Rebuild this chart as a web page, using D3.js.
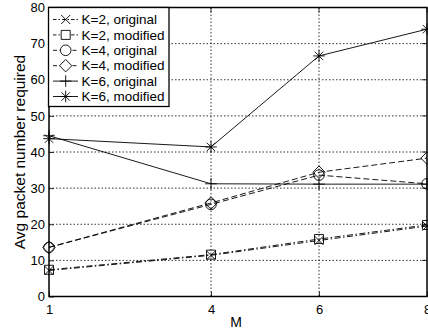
<!DOCTYPE html>
<html>
<head>
<meta charset="utf-8">
<script src="https://cdn.jsdelivr.net/npm/d3@7"></script>
<style>
  html, body { margin: 0; padding: 0; background: #fff; }
  svg { display: block; font-family: "Liberation Sans", Arial, Helvetica, sans-serif; }
</style>
</head>
<body>
<svg id="chart" width="428" height="333"></svg>
<script>
// M values on the x axis
const mValues = [1, 4, 6, 8];
const xTicks = [1, 4, 6, 8];
const yTicks = [0, 10, 20, 30, 40, 50, 60, 70, 80];

// Average packet number required, per series
const k2Original = [7.2, 11.4, 15.5, 19.5];
const k2Modified = [7.4, 11.6, 15.9, 19.8];
const k4Original = [13.6, 25.5, 33.6, 31.2];
const k4Modified = [13.6, 25.9, 34.4, 38.3];
const k6Original = [44.5, 31.2, 31.1, 31.1];
const k6Modified = [43.7, 41.4, 66.6, 74.0];

const seriesNames = ["K=2, original", "K=2, modified", "K=4, original", "K=4, modified", "K=6, original", "K=6, modified"];
const seriesValues = [k2Original, k2Modified, k4Original, k4Modified, k6Original, k6Modified];
const seriesMarkers = ["x", "square", "circle", "diamond", "plus", "star"];
const seriesDash = ["6,2.5,1.5,2.5", "6,2.5,1.5,2.5", "6,3", "6,3", null, null];

const svg = d3.select("#chart");
const pLeft = 49, pRight = 427, pTop = 7.5, pBottom = 296.5;

const x = d3.scaleLinear().domain([1, 8]).range([pLeft, pRight]);
const y = d3.scaleLinear().domain([0, 80]).range([pBottom, pTop]);

// dotted grid
const grid = svg.append("g").attr("stroke", "#000").attr("stroke-width", 0.8).attr("stroke-dasharray", "1.5,2");
grid.selectAll(".gy").data(yTicks.slice(1, -1)).join("line")
  .attr("x1", pLeft).attr("x2", pRight).attr("y1", d => y(d)).attr("y2", d => y(d));
grid.selectAll(".gx").data(xTicks.slice(1, -1)).join("line")
  .attr("x1", d => x(d)).attr("x2", d => x(d)).attr("y1", pTop).attr("y2", pBottom);

// axes
const xAxis = svg.append("g").attr("transform", `translate(0,${pBottom})`)
  .call(d3.axisBottom(x).tickValues(xTicks).tickFormat(d3.format("d")).tickSize(-5).tickPadding(8));
const yAxis = svg.append("g").attr("transform", `translate(${pLeft},0)`)
  .call(d3.axisLeft(y).tickValues(yTicks).tickSize(-5).tickPadding(4));
[xAxis, yAxis].forEach(a => {
  a.select(".domain").remove();
  a.selectAll("line").attr("stroke", "#000").attr("stroke-width", 0.8);
  a.selectAll("text").attr("fill", "#000").attr("font-size", 13)
    .attr("font-family", "'Liberation Sans', Arial, sans-serif");
});
// top ticks and right ticks
svg.append("g").selectAll("line").data(xTicks).join("line")
  .attr("x1", d => x(d)).attr("x2", d => x(d)).attr("y1", pTop).attr("y2", pTop + 5)
  .attr("stroke", "#000").attr("stroke-width", 0.8);
svg.append("g").selectAll("line").data(yTicks).join("line")
  .attr("x1", pRight).attr("x2", pRight - 5).attr("y1", d => y(d)).attr("y2", d => y(d))
  .attr("stroke", "#000").attr("stroke-width", 0.8);

// frame
svg.append("rect").attr("x", pLeft).attr("y", pTop).attr("width", pRight - pLeft).attr("height", pBottom - pTop)
  .attr("fill", "none").attr("stroke", "#000").attr("stroke-width", 1.5);

// marker shapes
function markerPath(type, cx, cy) {
  const p = d3.path();
  if (type === "x") {
    const s = 4.5;
    p.moveTo(cx - s, cy - s); p.lineTo(cx + s, cy + s);
    p.moveTo(cx - s, cy + s); p.lineTo(cx + s, cy - s);
  } else if (type === "square") {
    const s = 4.5;
    p.rect(cx - s, cy - s, 2 * s, 2 * s);
  } else if (type === "circle") {
    p.moveTo(cx + 5.3, cy); p.arc(cx, cy, 5.3, 0, 2 * Math.PI);
  } else if (type === "diamond") {
    const s = 6.2;
    p.moveTo(cx, cy - s); p.lineTo(cx + s, cy); p.lineTo(cx, cy + s); p.lineTo(cx - s, cy); p.closePath();
  } else if (type === "plus") {
    const s = 5.8;
    p.moveTo(cx - s, cy); p.lineTo(cx + s, cy);
    p.moveTo(cx, cy - s); p.lineTo(cx, cy + s);
  } else if (type === "star") {
    const s = 5.8, d = 4.2;
    p.moveTo(cx - s, cy); p.lineTo(cx + s, cy);
    p.moveTo(cx, cy - s); p.lineTo(cx, cy + s);
    p.moveTo(cx - d, cy - d); p.lineTo(cx + d, cy + d);
    p.moveTo(cx - d, cy + d); p.lineTo(cx + d, cy - d);
  }
  return p.toString();
}

const line = d3.line().x((d, i) => x(mValues[i])).y(d => y(d));
const plot = svg.append("g");
seriesValues.forEach((vals, si) => {
  plot.append("path").attr("d", line(vals)).attr("fill", "none")
    .attr("stroke", "#000").attr("stroke-width", 0.9)
    .attr("stroke-dasharray", seriesDash[si]);
  plot.selectAll(null).data(vals).join("path")
    .attr("d", (d, i) => markerPath(seriesMarkers[si], x(mValues[i]), y(d)))
    .attr("fill", "none").attr("stroke", "#000").attr("stroke-width", 0.9);
});

// legend
const lg = svg.append("g");
lg.append("rect").attr("x", 48.5).attr("y", 7.5).attr("width", 120.5).attr("height", 99)
  .attr("fill", "#fff").attr("stroke", "#000").attr("stroke-width", 1.3);
const rowY = d3.scaleLinear().domain([0, 5]).range([19.5, 96.5]);
seriesNames.forEach((name, i) => {
  const cy = rowY(i);
  lg.append("line").attr("x1", 53).attr("x2", 78).attr("y1", cy).attr("y2", cy)
    .attr("stroke", "#000").attr("stroke-width", 0.9).attr("stroke-dasharray", seriesDash[i] ? (i < 2 ? "3.5,2,1.5,2" : "4,2.5") : null);
  lg.append("path").attr("d", markerPath(seriesMarkers[i], 65.7, cy))
    .attr("fill", "#fff").attr("stroke", "#000").attr("stroke-width", 0.9);
  lg.append("text").attr("x", 81.5).attr("y", cy).attr("dy", "0.35em")
    .attr("font-size", 13.5).attr("fill", "#000").text(name);
});

// axis titles
svg.append("text").attr("x", 236).attr("y", 327).attr("text-anchor", "middle")
  .attr("font-size", 14).attr("fill", "#000").text("M");
svg.append("text").attr("transform", `translate(24.5,${(pTop + pBottom) / 2}) rotate(-90)`)
  .attr("text-anchor", "middle").attr("font-size", 15.5).attr("fill", "#000")
  .text("Avg packet number required");
</script>
</body>
</html>
